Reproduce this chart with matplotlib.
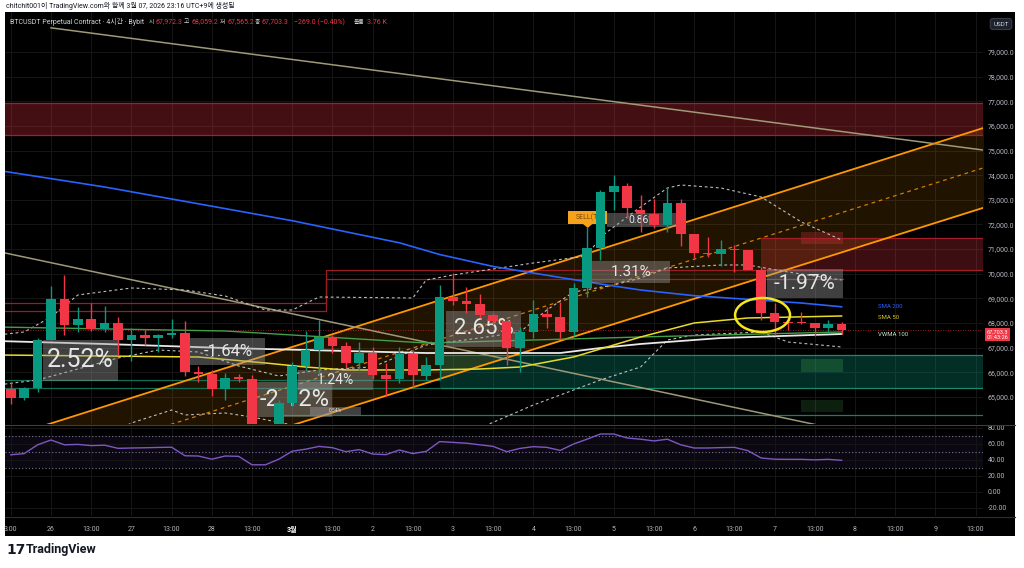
import numpy as np
import matplotlib
matplotlib.use('Agg')
import matplotlib.pyplot as plt
from matplotlib.patches import Rectangle, Ellipse, Polygon
from matplotlib.lines import Line2D
from matplotlib.transforms import blended_transform_factory

plt.rcParams['font.family'] = ['Roboto', 'Noto Sans CJK KR', 'DejaVu Sans']

W, H = 1024, 568

# 4h candles, index 0 = 26th 01:00
idx = np.arange(-3, 60)
opens = [65325, 64960, 65365, 67313, 68977, 67922, 68165, 67759, 68003, 67313,
         67516, 67394, 67516, 67597, 66014, 65933, 65325, 65811, 65730, 63700,
         63450, 64756, 66258, 66907, 67435, 67069, 66380, 66785, 65893, 65730,
         66745, 65852, 66298, 69058, 68896, 68774, 68327, 68084, 66988, 67638,
         68368, 68246, 67638, 69423, 71046, 73319, 73562, 72588, 72426, 71980,
         72872, 71614, 70843, 70803, 71006, 70965, 70154, 68409, 68043, 68043,
         68003, 67800, 67972.3]
highs = [65570, 65410, 67400, 69500, 69950, 68650, 68814, 68693, 68246, 67800,
         67759, 67556, 68165, 68084, 66258, 66096, 65974, 65933, 65893, 63880,
         64878, 66420, 67678, 68125, 67516, 67232, 67232, 67029, 66380, 67029,
         66907, 66620, 69545, 70032, 69464, 69180, 68409, 68084, 67840, 68936,
         68652, 68855, 69626, 71898, 73400, 74009, 73684, 73197, 73035, 73522,
         73035, 71614, 71493, 71371, 71168, 70965, 70275, 68814, 68246, 68449,
         68003, 68125, 68059.2]
lows = [64720, 64880, 65200, 67300, 67516, 67640, 67680, 67640, 66704, 66461,
        67110, 66826, 67394, 65852, 65609, 65040, 64878, 65609, 63500, 63150,
        63300, 64635, 66096, 65893, 66785, 66177, 66096, 65730, 65040, 65568,
        65406, 65690, 65690, 68733, 68409, 68206, 67922, 66298, 66014, 67394,
        67800, 67394, 67475, 69058, 70559, 72588, 72264, 71696, 71858, 71696,
        71127, 70641, 70681, 70316, 70072, 70154, 68125, 67516, 67719, 67962,
        67475, 67597, 67565.2]
closes = [64960, 65365, 67313, 68977, 67922, 68165, 67759, 68003, 67313, 67516,
          67394, 67516, 67597, 66014, 65933, 65325, 65771, 65730, 63700, 63450,
          64756, 66258, 66907, 67435, 67069, 66380, 66785, 65893, 65730, 66745,
          65893, 66298, 69058, 68896, 68774, 68327, 68084, 66988, 67638, 68368,
          68246, 67638, 69423, 71046, 73319, 73562, 72670, 72426, 71980, 72872,
          71614, 70843, 70803, 71006, 70965, 70154, 68409, 68043, 68003, 68003,
          67800, 67962, 67703.3]
rsi = [46.5, 48, 59, 65, 59, 59.5, 58, 58.5, 54.6, 55,
       55.3, 55.7, 56, 45.3, 45, 41, 45, 44.6, 34, 34,
       41, 51, 53.5, 57, 55.4, 50.4, 53, 47.5, 46.7, 52.5,
       48, 50.8, 63, 62, 61, 59, 57, 50.4, 54.5, 56.7,
       55.8, 52, 60, 66, 72.5, 72.5, 67.5, 66, 63.8, 66,
       59, 55, 55, 55.5, 55.8, 51.7, 42.5, 41, 40.8, 40.8,
       40.2, 40.8, 39.6]
last_volume = '3.76 K'

tick_idx = np.arange(-3, 70, 3)
tick_labels = ['3:00', '26', '13:00', '27', '13:00', '28', '13:00', '3월', '13:00',
               '2', '13:00', '3', '13:00', '4', '13:00', '5', '13:00', '6', '13:00',
               '7', '13:00', '8', '13:00', '9', '13:00']
price_ticks = np.arange(65000, 80000, 1000)
rsi_ticks = [80, 60, 40, 20, 0, -20]

# indicator lines (candle index, value)
sma200_idx = [-4, 4, 11, 18, 26, 29, 33, 41, 44, 48, 56, 59]
sma200 = [74200, 73522, 72840, 72154, 71257, 70783, 70296, 69585, 69342, 69111, 68814, 68660]
sma50_idx = [-4, 4, 11, 16, 19, 22, 28, 32, 35, 39, 41, 44, 48, 52, 59]
sma50 = [66704, 66663, 66623, 66380, 66217, 66096, 66096, 66136, 66217, 66623, 66948,
         67435, 68003, 68206, 68287]
vwma_idx = [-4, 4, 13, 19, 28, 38, 41, 44, 50, 59]
vwma = [67272, 67151, 66988, 66907, 66785, 66785, 66988, 67151, 67394, 67556]
green_idx = [-4, 13, 28, 44, 59]
green_ma = [67840, 67678, 67191, 67435, 67638]
bb_up_idx = [-4, -2, 0, 2, 6, 10, 13, 16, 18, 20, 27, 28, 30, 36, 40, 41, 44, 46, 47, 50, 53, 56, 59]
bb_up = [67516, 67638, 68246, 69139, 69423, 69342, 69098, 68530, 68530, 69058, 69017, 69748,
         69951, 70438, 70722, 71493, 72710, 73481, 73603, 73481, 73116, 72101, 71370]
bb_mid_idx = [-4, -1, 5, 8, 11, 14, 17, 20, 24, 28, 32, 35, 37, 39, 42, 44, 46, 50, 52, 55, 59]
bb_mid = [65487, 65690, 66583, 66907, 66826, 66258, 65852, 66096, 66217, 67110, 67394,
          67638, 68530, 69261, 69545, 69829, 70235, 70357, 70357, 70072, 69748]
bb_low_idx = [5, 6, 9, 10, 13, 15, 18, 21, 27, 32, 36, 41, 44, 46, 48, 53, 55, 59]
bb_low = [63661, 63945, 64472, 64270, 64351, 64188, 63864, 63255, 63052, 63742, 64675,
          65690, 66217, 67313, 67516, 67638, 67232, 67029]

# drawings
channel_idx = [-4, 70]
channel_upper = [63240, 75990]
channel_lower = [60090, 72750]
trend1_idx = [0, 70]
trend1 = [79980, 74990]
trend2_idx = [-4, 60]
trend2 = [70910, 63540]
zone_top = [75640, 76930]
zone_red = [70150, 71450]
zone_green = [65370, 66700]
old_lines = [65690, 65365]
low_line = 64270
step_idx = [-4, 20.5, 20.5, 59.1]
step_upper = [68814, 68814, 70154, 70154]
step_lower = [68490, 68490, 69788, 69788]

pct_text = ['2.52%', '-1.64%', '-2.12%', '1.24%', '0.54%', '2.65%', '1.31%', '0.86%', '-1.97%']
pct_k0 = [-0.6, 10.4, 15.4, 18.4, 19.3, 29.5, 40.4, 41.5, 53.4]
pct_k1 = [5.0, 16.0, 21.0, 24.0, 23.1, 35.1, 46.2, 46.7, 59.1]
pct_lo = [65650, 66300, 64190, 65280, 64270, 67030, 69630, 71900, 69017]
pct_hi = [67313, 67394, 65610, 66100, 64600, 68490, 70520, 72466, 70194]
pct_size = [18, 12, 17, 10, 3.5, 16, 11, 7.5, 15]

GREEN = '#089981'
RED = '#f23645'
GRID = '#161616'
LABEL = '#b2b5be'

fig = plt.figure(figsize=(W / 100, H / 100), dpi=100)
fig.patch.set_facecolor('white')


def fx(x):
    return x / W


def fy(y):
    return 1 - y / H


fig.add_artist(Rectangle((fx(5), fy(536)), 1010 / W, 524 / H, transform=fig.transFigure,
                         facecolor='black', edgecolor='none', zorder=0))

ax = fig.add_axes([fx(5), fy(424), 978 / W, 412 / H])
ax2 = fig.add_axes([fx(5), fy(516), 978 / W, 90 / H])
xmin, xmax = -3.433, 69.552
for a in (ax, ax2):
    a.set_facecolor('black')
    a.set_xlim(xmin, xmax)
    for s in a.spines.values():
        s.set_visible(False)
    a.yaxis.tick_right()
    a.set_xticks(tick_idx)
    a.grid(color=GRID, lw=0.7, zorder=0)
    a.set_axisbelow(True)

ax.set_ylim(63904, 80623)
ax.set_yticks(price_ticks)
ax.set_yticklabels([f'{v:,.1f}' for v in price_ticks])
ax.tick_params(axis='y', length=0, pad=3.5, labelsize=5, labelcolor=LABEL)
ax.tick_params(axis='x', length=0, labelbottom=False)

# zones
ax.add_patch(Rectangle((-4, zone_top[0]), 80, zone_top[1] - zone_top[0], fc=RED, alpha=0.28, ec='none', zorder=1))
ax.hlines(zone_top, -4, 76, color='#a3202b', lw=0.9, zorder=1.5)
ax.add_patch(Rectangle((53, zone_red[0]), 23, zone_red[1] - zone_red[0], fc=RED, alpha=0.25, ec='none', zorder=1))
ax.hlines(zone_red, 53, 76, color='#a3202b', lw=0.9, zorder=1.5)
ax.add_patch(Rectangle((29, zone_green[0]), 47, zone_green[1] - zone_green[0], fc=GREEN, alpha=0.3, ec='none', zorder=1))
ax.hlines(zone_green, 29, 76, color='#1a8a6a', lw=0.9, zorder=1.5)
ax.hlines(old_lines, -4, 29, color='#136e56', lw=0.9, zorder=1.5)
ax.hlines(low_line, 17, 76, color='#168060', lw=0.9, zorder=1.5)
ax.add_patch(Rectangle((56, 71210), 3.1, 480, fc=RED, alpha=0.25, ec='none', zorder=1.2))
ax.add_patch(Rectangle((56, 66010), 3.1, 530, fc='#4caf50', alpha=0.25, ec='none', zorder=1.2))
ax.add_patch(Rectangle((56, 64390), 3.1, 490, fc='#4caf50', alpha=0.18, ec='none', zorder=1.2))
ax.plot(step_idx, step_upper, color='#9c1c24', lw=0.9, zorder=1.6)
ax.plot(step_idx, step_lower, color='#9c1c24', lw=0.9, zorder=1.6)

# channel
ch_mid = [(u + l) / 2 for u, l in zip(channel_upper, channel_lower)]
ax.fill_between(channel_idx, channel_lower, channel_upper, color='#ff9800', alpha=0.13, lw=0, zorder=1)
ax.plot(channel_idx, channel_upper, color='#ff9800', lw=1.3, zorder=2)
ax.plot(channel_idx, channel_lower, color='#ff9800', lw=1.3, zorder=2)
ax.plot(channel_idx, ch_mid, color='#ff9800', lw=0.9, ls=(0, (3, 3)), alpha=0.8, zorder=2)

ax.plot(trend1_idx, trend1, color='#9e9a78', lw=1.1, zorder=2)
ax.plot(trend2_idx, trend2, color='#9e9a78', lw=1.1, zorder=2)

# indicators
ax.plot(bb_up_idx, bb_up, color='#bdbdbd', lw=0.8, ls=(0, (2.5, 2.5)), zorder=2.5)
ax.plot(bb_mid_idx, bb_mid, color='#bdbdbd', lw=0.8, ls=(0, (2.5, 2.5)), zorder=2.5)
ax.plot(bb_low_idx, bb_low, color='#bdbdbd', lw=0.8, ls=(0, (2.5, 2.5)), zorder=2.5)
ax.plot(green_idx, green_ma, color='#43a047', lw=1.0, zorder=2.6)
ax.plot(vwma_idx, vwma, color='#e8e8e8', lw=1.3, zorder=2.7)
ax.plot(sma50_idx, sma50, color='#e8dc2a', lw=1.1, zorder=2.7)
ax.plot(sma200_idx, sma200, color='#2962ff', lw=1.2, zorder=2.7)
ax.text(61.7, sma200[-1], 'SMA 200', color='#2962ff', fontsize=4.3, va='center', zorder=3)
ax.text(61.7, sma50[-1] - 80, 'SMA 50', color='#d8c820', fontsize=4.3, va='center', zorder=3)
ax.text(61.7, vwma[-1], 'VWMA 100', color='#c8e6c9', fontsize=4.3, va='center', zorder=3)

ax.axhline(closes[-1], color=RED, lw=0.6, ls=(0, (1, 2)), alpha=0.8, zorder=2)

# percentage boxes
for t, k0, k1, lo, hi, fs in zip(pct_text, pct_k0, pct_k1, pct_lo, pct_hi, pct_size):
    ax.add_patch(Rectangle((k0, lo), k1 - k0, hi - lo, fc='#9a9a9a', alpha=0.42, ec='none', zorder=3.5))
    ax.text((k0 + k1) / 2, (lo + hi) / 2, t, color='#e6e6e6', fontsize=fs, ha='center', va='center', zorder=3.6)

# SELL(T) tag
ax.add_patch(Rectangle((38.6, 72020), 2.9, 530, fc='#f7a21b', ec='none', zorder=3.7))
ax.add_patch(Polygon([(39.7, 72020), (40.4, 72020), (40.05, 71860)], closed=True, fc='#f7a21b', ec='none', zorder=3.7))
ax.text(40.05, 72285, 'SELL(T)', color='#7a4a05', fontsize=5, ha='center', va='center', zorder=3.8)

# candles
colors = [GREEN if c >= o else RED for o, c in zip(opens, closes)]
bottoms = [min(o, c) for o, c in zip(opens, closes)]
heights = [max(abs(c - o), 35) for o, c in zip(opens, closes)]
ax.vlines(idx, lows, highs, colors=colors, lw=1.0, zorder=4.9)
ax.bar(idx, heights, bottom=bottoms, width=0.72, color=colors, lw=0, zorder=5)

ax.add_patch(Ellipse((53.1, 68327), 4.1, 1380, fill=False, ec='#f5e71a', lw=1.8, zorder=6))

# last price tag
tr = blended_transform_factory(ax.transAxes, ax.transData)
ax.annotate(f'{closes[-1]:,.1f}\n01:43:26', xy=(1.004, closes[-1]), xycoords=tr,
            xytext=(0, -3), textcoords='offset points', color='white', fontsize=4.1,
            va='center', ha='left', linespacing=1.1,
            bbox=dict(fc=RED, ec='none', boxstyle='square,pad=0.3'), zorder=7, annotation_clip=False)

# RSI pane
ax2.set_ylim(-30, 82.5)
ax2.axhspan(30, 70, color='#7e57c2', alpha=0.1, lw=0, zorder=0.5)
for lvl in (70, 50, 30):
    ax2.axhline(lvl, color='#787b86', lw=0.8, ls=(0, (1, 2)), zorder=1)
ax2.plot(idx, rsi, color='#7e57c2', lw=1.0, zorder=3)
ax2.set_yticks(rsi_ticks)
ax2.set_yticklabels([f'{v:.2f}' for v in rsi_ticks])
ax2.tick_params(axis='y', length=0, pad=3.5, labelsize=5, labelcolor=LABEL)
ax2.set_xticklabels(tick_labels)
ax2.tick_params(axis='x', length=0, pad=7, labelsize=5, labelcolor=LABEL)
lab = ax2.get_xticklabels()[7]
lab.set_color('white')
lab.set_fontweight('bold')

# pane separators
fig.add_artist(Line2D([fx(5), fx(1015)], [fy(425), fy(425)], color='#3a3e49', lw=0.8, transform=fig.transFigure))
fig.add_artist(Line2D([fx(5), fx(1015)], [fy(517), fy(517)], color='#2a2e39', lw=0.8, transform=fig.transFigure))

# USDT box
fig.text(fx(1001), fy(24), 'USDT', color='#d1d4dc', fontsize=4.5, ha='center', va='center',
         bbox=dict(fc='#1e222d', ec='#434651', lw=0.6, boxstyle='round,pad=0.5'))

# header texts
fig.text(fx(6), fy(6), 'chitchit001이 TradingView.com와 함께 3월 07, 2026 23:16 UTC+9에 생성됨',
         color='#131722', fontsize=5, va='center')
light = '#d1d4dc'
chg = closes[-1] - opens[-1]
parts = [(10, 'BTCUSDT Perpetual Contract · 4시간 · Bybit', light, 5),
         (149, '시', light, 4.2), (156, f'{opens[-1]:,.1f}', RED, 5),
         (184, '고', light, 4.2), (191, f'{highs[-1]:,.1f}', RED, 5),
         (220, '저', light, 4.2), (227, f'{lows[-1]:,.1f}', RED, 5),
         (255, '종', light, 4.2), (262, f'{closes[-1]:,.1f}', RED, 5),
         (294, f'\u2212{abs(chg):.1f} (\u2212{abs(chg) / opens[-1] * 100:.2f}%)', RED, 5),
         (354, '볼륨', light, 4.2), (367, last_volume, RED, 5)]
for x, t, c, fs in parts:
    fig.text(fx(x), fy(22), t, color=c, fontsize=fs, va='center')

# footer logo
fig.text(fx(6), fy(550), '17', color='#131722', fontsize=10, fontweight='heavy', va='center',
         family=['DejaVu Sans'])
fig.text(fx(26), fy(550), 'TradingView', color='#131722', fontsize=9, fontweight='bold', va='center')

fig.savefig('out.png', dpi=100, facecolor='white')
